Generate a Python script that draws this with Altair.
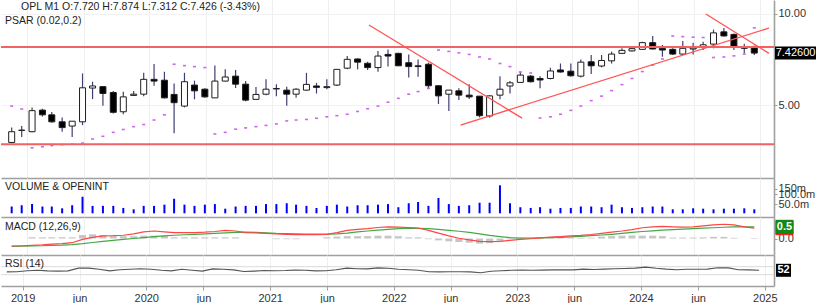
import altair as alt
import pandas as pd

# ---------------- data ----------------
month_starts = pd.date_range("2018-11-01", periods=74, freq="MS")
dates = [(m + pd.Timedelta(days=14)).strftime("%Y-%m-%d") for m in month_starts]

opens = [3.76, 4.12, 4.08, 4.81, 4.64, 4.40, 4.26, 4.40, 5.69, 5.75,
         5.50, 4.75, 5.38, 5.43, 6.08, 6.04, 5.42, 4.96, 5.82, 5.64,
         5.28, 6.00, 6.23, 5.86, 5.22, 5.43, 5.65, 5.60, 5.43, 5.60,
         5.78, 5.71, 5.82, 6.62, 7.10, 6.87, 6.65, 7.35, 7.41, 6.90,
         6.74, 6.82, 5.79, 5.43, 5.57, 5.39, 5.35, 4.60, 5.39, 5.78,
         5.94, 6.23, 6.12, 6.12, 6.53, 6.47, 6.23, 6.95, 6.73, 7.00,
         7.41, 7.55, 7.64, 8.04, 7.70, 7.64, 7.37, 7.66, 7.80, 7.95,
         8.73, 8.56, 7.80, 7.720]
highs = [4.21, 4.26, 4.91, 4.86, 4.74, 4.55, 4.43, 6.36, 5.97, 5.78,
         5.56, 5.53, 5.56, 6.39, 6.83, 6.44, 5.89, 6.39, 6.02, 5.68,
         6.76, 6.56, 6.53, 6.00, 5.74, 6.08, 5.86, 5.75, 5.68, 6.39,
         5.92, 6.08, 6.56, 7.26, 7.13, 6.95, 7.55, 7.63, 7.44, 7.35,
         7.07, 6.90, 5.82, 5.60, 5.68, 5.86, 5.35, 5.39, 6.23, 6.00,
         6.44, 6.28, 6.23, 6.64, 6.86, 6.86, 7.07, 7.32, 7.32, 7.51,
         7.70, 7.80, 8.10, 8.46, 7.89, 7.70, 8.14, 8.04, 8.10, 8.88,
         8.99, 8.62, 7.98, 7.874]
lows = [3.74, 3.92, 4.06, 4.58, 4.37, 4.08, 3.92, 4.29, 5.23, 4.97,
        4.69, 4.66, 5.36, 5.35, 5.79, 5.26, 4.03, 4.91, 5.22, 5.28,
        5.27, 5.98, 5.69, 5.15, 5.21, 5.39, 5.35, 4.97, 5.28, 5.58,
        5.46, 5.64, 5.78, 6.56, 6.56, 6.53, 6.44, 6.70, 6.74, 6.17,
        6.20, 5.64, 5.04, 4.78, 5.19, 5.23, 4.55, 4.54, 5.22, 5.46,
        5.94, 5.94, 5.68, 6.08, 6.40, 6.20, 6.17, 6.33, 6.66, 6.86,
        7.40, 7.51, 7.63, 7.64, 7.22, 7.32, 7.32, 7.34, 7.60, 7.70,
        8.42, 7.60, 7.41, 7.312]
closes = [4.08, 4.13, 4.79, 4.64, 4.40, 4.21, 4.42, 5.70, 5.78, 5.46,
          4.73, 5.32, 5.43, 6.08, 6.00, 5.28, 5.09, 5.97, 5.57, 5.32,
          6.00, 6.19, 5.86, 5.19, 5.42, 5.64, 5.67, 5.43, 5.64, 5.85,
          5.72, 5.75, 6.56, 7.08, 6.93, 6.65, 7.26, 7.26, 6.74, 6.70,
          6.70, 5.79, 5.36, 5.60, 5.39, 5.32, 4.61, 5.36, 5.64, 5.92,
          6.28, 5.97, 6.05, 6.48, 6.43, 6.25, 6.93, 6.74, 7.02, 7.37,
          7.58, 7.68, 8.04, 7.66, 7.60, 7.37, 7.70, 7.72, 7.91, 8.66,
          8.46, 7.80, 7.70, 7.426]
psar = [4.96, 4.85, 3.61, 3.64, 3.67, 3.70, 3.71, 3.74, 3.86, 3.94,
        4.06, 4.15, 4.24, 4.31, 4.46, 4.64, 6.82, 6.75, 6.70, 6.65,
        4.01, 4.06, 4.16, 4.20, 4.24, 4.28, 4.33, 4.43, 4.46, 4.48,
        4.52, 4.57, 4.61, 4.66, 4.76, 4.86, 4.96, 5.11, 5.26, 5.43,
        5.54, 5.68, 7.60, 7.52, 7.44, 7.35, 7.21, 7.10, 6.86, 6.70,
        6.43, 6.38, 4.53, 4.57, 4.66, 4.80, 4.96, 5.17, 5.35, 5.58,
        5.84, 6.12, 6.45, 6.78, 7.10, 8.46, 8.42, 8.38, 8.36, 7.18,
        7.21, 7.27, 7.37, 9.00]
volume_m = [42, 46, 50, 42, 42, 37, 46, 84, 44, 44,
            44, 38, 34.5, 44, 44, 48, 73, 48, 44, 48,
            50, 36, 42, 44, 44, 50, 50, 53, 48, 44,
            38, 44, 48, 42, 46, 46, 48, 50, 40, 53,
            58, 44, 77, 50, 44, 46, 55, 55, 189, 53,
            40, 38, 40, 36, 38, 38, 42, 42, 40, 48,
            40, 38, 40, 42, 42, 34.5, 34.5, 37, 36, 34.5,
            36, 36, 37, 34.5]
macd_line = [-0.32, -0.31, -0.29, -0.27, -0.24, -0.22, -0.18, -0.04, 0.05, 0.11,
             0.12, 0.14, 0.20, 0.28, 0.32, 0.28, 0.25, 0.25, 0.25, 0.27,
             0.30, 0.35, 0.32, 0.25, 0.24, 0.22, 0.20, 0.18, 0.17, 0.17,
             0.17, 0.18, 0.25, 0.35, 0.39, 0.42, 0.47, 0.50, 0.49, 0.47,
             0.45, 0.35, 0.23, 0.11, 0.01, -0.06, -0.12, -0.13, -0.12, -0.08,
             -0.04, -0.01, 0.03, 0.06, 0.08, 0.11, 0.13, 0.17, 0.22, 0.27,
             0.32, 0.38, 0.46, 0.50, 0.52, 0.50, 0.49, 0.50, 0.54, 0.58,
             0.61, 0.58, 0.50, 0.44]
signal_line = [-0.34, -0.33, -0.32, -0.31, -0.29, -0.28, -0.26, -0.22, -0.17, -0.12,
               -0.08, -0.04, 0.00, 0.04, 0.08, 0.11, 0.14, 0.16, 0.18, 0.20,
               0.22, 0.24, 0.26, 0.27, 0.26, 0.24, 0.22, 0.21, 0.20, 0.19,
               0.19, 0.19, 0.20, 0.23, 0.28, 0.32, 0.36, 0.39, 0.42, 0.44,
               0.43, 0.42, 0.39, 0.35, 0.31, 0.26, 0.20, 0.13, 0.08, 0.04,
               0.02, 0.02, 0.03, 0.04, 0.05, 0.07, 0.09, 0.12, 0.15, 0.18,
               0.22, 0.26, 0.30, 0.33, 0.36, 0.38, 0.40, 0.42, 0.44, 0.46,
               0.48, 0.50, 0.50, 0.50]
macd_hist = [0.0, 0.0, 0.05, 0.05, 0.05, 0.05, 0.05, 0.15, 0.18, 0.15,
             0.10, 0.10, 0.10, 0.12, 0.12, 0.12, 0.05, 0.05, 0.05, 0.05,
             0.05, 0.05, 0.05, 0.0, 0.0, 0.0, -0.03, -0.03, -0.03, 0.0,
             0.0, 0.05, 0.08, 0.10, 0.10, 0.10, 0.12, 0.12, 0.10, 0.05,
             0.05, -0.03, -0.08, -0.12, -0.15, -0.18, -0.22, -0.20, -0.10, -0.03,
             0.03, 0.03, 0.03, 0.03, 0.03, 0.03, 0.03, 0.03, 0.08, 0.10,
             0.12, 0.13, 0.12, 0.12, 0.10, 0.04, 0.04, 0.04, 0.05, 0.07,
             0.07, 0.03, 0.0, -0.02]
rsi14 = [44, 45, 50, 52, 49, 48, 49, 63, 63, 57,
         49, 55, 57, 60, 57, 52, 49, 57, 52, 48,
         59, 57, 54, 46, 48, 51, 50, 51, 53, 52,
         49, 50, 55, 63, 60, 59, 64, 62, 57, 55,
         52, 45, 44, 45, 45, 44, 40, 47, 50, 52,
         53, 52, 53, 54, 55, 54, 58, 56, 58, 60,
         61, 63, 68, 62, 58, 55, 57, 57, 58, 65,
         64, 55, 54, 52]

level_lines = [7.776, 3.71]
trend_start_dates = ["2021-10-19", "2022-07-20", "2024-07-23"]
trend_start_prices = [9.196, 4.291, 10.0]
trend_end_dates = ["2023-01-20", "2025-01-28", "2025-01-28"]
trend_end_prices = [4.524, 8.986, 7.41]
rsi_guides = [70, 30]
year_ticks = [2019, 2020, 2021, 2022, 2023, 2024, 2025]
jun_ticks = [2019, 2020, 2021, 2022, 2023, 2024]
price_ticks = [5, 10]
volume_ticks = [50, 100, 150]
macd_ticks = [0]

# ---------------- chart ----------------
FONT = "Liberation Sans"
GRAY = "#a0a0a0"
W = 773

df = pd.DataFrame(dict(date=dates, o=opens, h=highs, l=lows, c=closes, sar=psar,
                       vol=volume_m, macd=macd_line, sig=signal_line,
                       hist=macd_hist, rsi=rsi14))
base = alt.Chart(df)

tick_values = ([alt.DateTime(year=y, month=1, date=1, utc=True) for y in year_ticks] +
               [alt.DateTime(year=y, month=6, date=18, utc=True) for y in jun_ticks])
xscale = alt.Scale(type="utc", nice=False,
                   domain=[alt.DateTime(year=2018, month=10, date=29, utc=True),
                           alt.DateTime(year=2025, month=1, date=28, utc=True)])


def x_axis(bottom):
    return alt.Axis(values=tick_values, grid=True, gridColor="#efefef", gridWidth=1,
                    domain=True, domainColor=GRAY, domainWidth=1.6,
                    labels=bottom, ticks=bottom, tickColor=GRAY, tickSize=4,
                    labelExpr="utcmonth(datum.value) == 0 ? utcFormat(datum.value, '%Y') : 'jun'",
                    labelFontSize=11, labelColor="#333333", labelPadding=2,
                    labelFont=FONT, title=None)


def y_axis(**kw):
    d = dict(orient="right", domainColor=GRAY, domainWidth=1.6, tickColor=GRAY,
             tickSize=3, labelFontSize=11, labelColor="#333333", labelPadding=1,
             labelFont=FONT, title=None, grid=False)
    d.update(kw)
    return alt.Axis(**d)


def rect_path(w, h):
    r = h / w
    return f"M-1,{-r:.4f}L1,{-r:.4f}L1,{r:.4f}L-1,{r:.4f}Z"


def value_box(value, text, scale, axis, color, w, h, cx, bold=False):
    d = pd.DataFrame({"v": [value], "t": [text]})
    box = alt.Chart(d).mark_point(shape=rect_path(w, h), size=w * w, filled=True,
                                  color=color, opacity=1, strokeWidth=0).encode(
        x=alt.value(cx), y=alt.Y("v:Q", scale=scale, axis=axis, title=None))
    if text is None:
        return [box]
    txt = alt.Chart(d).mark_text(color="white", fontSize=11, font=FONT,
                                 fontWeight="bold" if bold else "normal",
                                 align="center", baseline="middle").encode(
        x=alt.value(cx), y=alt.Y("v:Q", scale=scale, axis=axis, title=None), text="t:N")
    return [box, txt]


def panel_label(text, x, y, size=10.5):
    return alt.Chart(pd.DataFrame({"t": [text]})).mark_text(
        align="left", baseline="middle", fontSize=size, font=FONT, color="#222222"
    ).encode(x=alt.value(x), y=alt.value(y), text="t:N")


# ---- price panel ----
yprice = alt.Scale(type="log", domain=[2.868, 11.125], nice=False)
pax = y_axis(values=price_ticks, format=".2f", grid=True, gridColor="#f2f2f2")
xax = x_axis(False)
X_top = alt.X("date:T", scale=xscale, axis=xax, title=None)

wicks = base.mark_rule(color="#3f3f72", strokeWidth=1.2).encode(
    x=X_top, y=alt.Y("l:Q", scale=yprice, title=None, axis=pax), y2="h:Q")
bodies = base.mark_bar(size=6, stroke="#1e1e1e", strokeWidth=1).encode(
    x=X_top, y=alt.Y("o:Q", scale=yprice, axis=pax, title=None), y2="c:Q",
    fill=alt.condition("datum.c >= datum.o", alt.value("white"), alt.value("black")))
sar = base.mark_point(shape=rect_path(3, 1.6), size=9, filled=True, color="#cc66ee",
                      opacity=1, strokeWidth=0).encode(
    x=X_top, y=alt.Y("sar:Q", scale=yprice, axis=pax, title=None))
levels = alt.Chart(pd.DataFrame({"p": level_lines})).mark_rule(
    color="#f26262", strokeWidth=2).encode(y=alt.Y("p:Q", scale=yprice, axis=pax, title=None))
trend_df = pd.DataFrame({"d1": trend_start_dates, "p1": trend_start_prices,
                         "d2": trend_end_dates, "p2": trend_end_prices})
trends = alt.Chart(trend_df).mark_rule(color="#ff5555", strokeWidth=1.3).encode(
    x=alt.X("d1:T", scale=xscale, axis=xax, title=None), x2="d2:T",
    y=alt.Y("p1:Q", scale=yprice, axis=pax, title=None), y2="p2:Q")
header = (f"OPL M1 O:{opens[-1]:.3f} H:{highs[-1]:.3f} L:{lows[-1]:.3f} "
          f"C:{closes[-1]:.3f} (-3.43%)")
price = alt.layer(
    wicks, bodies, sar, levels, trends,
    panel_label(header, 20, 7, 10.5), panel_label("PSAR (0.02,0.2)", 4, 21),
    *value_box(closes[-1], f"{closes[-1]:.5f}", yprice, pax, "black", 41, 13, 794.5),
).properties(width=W, height=178)

# ---- volume panel ----
yvol = alt.Scale(type="log", domain=[20, 317], nice=False)
vax = y_axis(values=volume_ticks, labelOverlap=False,
             labelExpr="datum.value >= 150 ? '150m' : datum.value >= 100 ? '100.0m' : '50.0m'")
vbars = base.mark_bar(size=2, color="#0000ff").encode(
    x=X_top, y=alt.Y("vol:Q", scale=yvol, title=None, axis=vax), y2=alt.datum(26))
volume = alt.layer(vbars, panel_label("VOLUME & OPENINT", 4, 8.5)).properties(width=W, height=39)

# ---- MACD panel ----
ymacd = alt.Scale(domain=[-0.705, 0.919], nice=False, zero=False)
max_ = y_axis(values=macd_ticks, format=".1f", labelOverlap=False)
hbars = base.mark_bar(size=7, color="#c6c6c6").encode(
    x=X_top, y=alt.Y("hist:Q", scale=ymacd, title=None, axis=max_), y2=alt.datum(0))
sig = base.mark_line(color="#45a845", strokeWidth=1.2).encode(
    x=X_top, y=alt.Y("sig:Q", scale=ymacd, axis=max_, title=None))
mline = base.mark_line(color="#ff4545", strokeWidth=1.2).encode(
    x=X_top, y=alt.Y("macd:Q", scale=ymacd, axis=max_, title=None))
macd = alt.layer(
    hbars, sig, mline, panel_label("MACD (12,26,9)", 4, 9.5),
    *value_box(macd_line[-1], None, ymacd, max_, "#ee2222", 18, 14, 783.5),
    *value_box(signal_line[-1], f"{signal_line[-1]:.1f}", ymacd, max_, "#118a11", 18, 14, 783.5, bold=True),
).properties(width=W, height=38)

# ---- RSI panel ----
yrsi = alt.Scale(domain=[-26.5, 128.5], nice=False, zero=False)
rax = y_axis(labels=False, ticks=False, values=[50])
X_bot = alt.X("date:T", scale=xscale, axis=x_axis(True), title=None)
guides = alt.Chart(pd.DataFrame({"g": rsi_guides})).mark_rule(
    color="#dadada", strokeWidth=1).encode(
    y=alt.Y("g:Q", scale=yrsi, axis=rax, title=None))
rline = base.mark_line(color="#555555", strokeWidth=1.1).encode(
    x=X_bot, y=alt.Y("rsi:Q", scale=yrsi, title=None, axis=rax))
rsi = alt.layer(
    guides, rline, panel_label("RSI (14)", 4, 8.5),
    *value_box(rsi14[-1], f"{rsi14[-1]:.0f}", yrsi, rax, "black", 15, 13, 782.5, bold=True),
).properties(width=W, height=31)

chart = alt.vconcat(price, volume, macd, rsi, spacing=0, bounds="flush").resolve_scale(
    x="independent", y="independent").properties(padding=0).configure(
    font=FONT).configure_view(strokeWidth=0)

chart.save("out.html", embed_options={"renderer": "svg", "actions": False})
